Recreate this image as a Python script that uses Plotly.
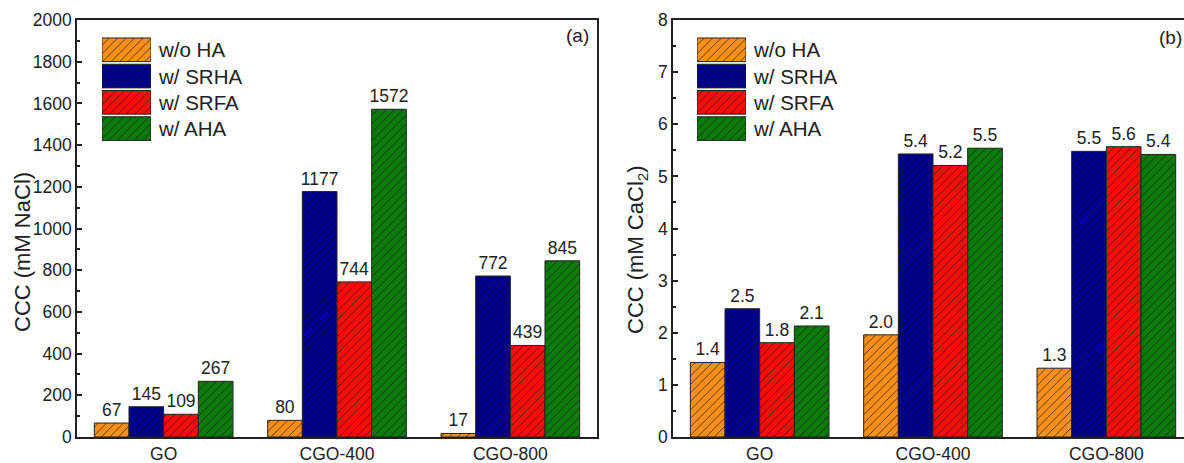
import plotly.graph_objects as go

categories = ["GO", "CGO-400", "CGO-800"]
series_names = ["w/o HA", "w/ SRHA", "w/ SRFA", "w/ AHA"]
series_colors = ["#F8901A", "#00008F", "#FF0A0A", "#0B7A0B"]

# (a) CCC in mM NaCl
nacl_values = [
    [67, 80, 17],        # w/o HA
    [145, 1177, 772],    # w/ SRHA
    [109, 744, 439],     # w/ SRFA
    [267, 1572, 845],    # w/ AHA
]
# (b) CCC in mM CaCl2
cacl2_values = [
    [1.43, 1.96, 1.32],
    [2.46, 5.43, 5.48],
    [1.81, 5.21, 5.57],
    [2.13, 5.54, 5.42],
]

FONT = "Liberation Sans, Arial, sans-serif"
INK = "#222222"
W, H = 1184, 463
MT, MB = 20, 26
PH = H - MT - MB


def px_x(p):
    return p / W


def px_y(p):
    return (H - MB - p) / PH


def pattern(color):
    return dict(shape="/", bgcolor=color, fgcolor="#1a1a1a", size=6,
                solidity=0.12, fillmode="replace")


fig = go.Figure()

for i, name in enumerate(series_names):
    fig.add_trace(go.Bar(
        x=categories, y=nacl_values[i], name=name, xaxis="x", yaxis="y",
        marker=dict(color=series_colors[i], pattern=pattern(series_colors[i]),
                    line=dict(color=INK, width=1)),
        texttemplate="%{y}", textposition="outside", cliponaxis=False,
        constraintext="none", textfont=dict(size=17.5, color=INK, family=FONT),
        showlegend=False))
    fig.add_trace(go.Bar(
        x=categories, y=cacl2_values[i], name=name, xaxis="x2", yaxis="y2",
        marker=dict(color=series_colors[i], pattern=pattern(series_colors[i]),
                    line=dict(color=INK, width=1)),
        texttemplate="%{y:.1f}", textposition="outside", cliponaxis=False,
        constraintext="none", textfont=dict(size=17.5, color=INK, family=FONT),
        showlegend=False))

# legend swatches drawn as bars on small helper axes
for xa, ya in (("x3", "y3"), ("x4", "y4")):
    for i, name in enumerate(series_names):
        fig.add_trace(go.Bar(
            y=[name], x=[1], orientation="h", xaxis=xa, yaxis=ya,
            width=0.9, offset=-0.45, showlegend=False, hoverinfo="skip",
            marker=dict(color=series_colors[i], pattern=pattern(series_colors[i]),
                        line=dict(color=INK, width=1))))

axis_common = dict(showline=True, linewidth=1.5, linecolor=INK, showgrid=False,
                   zeroline=False, tickfont=dict(size=17.5, color=INK, family=FONT))

fig.update_layout(
    width=W, height=H,
    margin=dict(l=0, r=0, t=MT, b=MB),
    paper_bgcolor="white", plot_bgcolor="white",
    barmode="group", bargap=0.2, bargroupgap=0,
    font=dict(family=FONT, color=INK),
    xaxis=dict(domain=[px_x(77), px_x(597)], anchor="y", range=[-0.5, 2.5],
               ticks="", mirror=True, **axis_common),
    yaxis=dict(domain=[0, 1], anchor="x", range=[0, 2000], dtick=200,
               ticks="inside", ticklen=5, tickwidth=1.5, tickcolor=INK, mirror=True,
               minor=dict(dtick=100, ticks="inside", ticklen=3, tickwidth=1.5, tickcolor=INK),
               **axis_common),
    xaxis2=dict(domain=[px_x(673), 1], anchor="y2", range=[-0.5, 2.448],
                ticks="", mirror=True, **axis_common),
    yaxis2=dict(domain=[0, 1], anchor="x2", range=[0, 8], dtick=1,
                ticks="inside", ticklen=5, tickwidth=1.5, tickcolor=INK, mirror=False,
                minor=dict(dtick=0.5, ticks="inside", ticklen=3, tickwidth=1.5, tickcolor=INK),
                **axis_common),
    xaxis3=dict(domain=[px_x(102), px_x(151)], anchor="y3", range=[0, 1], visible=False),
    yaxis3=dict(domain=[px_y(141.7), px_y(36.7)], anchor="x3", range=[3.5, -0.5],
                visible=False, type="category", categoryarray=series_names,
                categoryorder="array"),
    xaxis4=dict(domain=[px_x(697), px_x(746)], anchor="y4", range=[0, 1], visible=False),
    yaxis4=dict(domain=[px_y(141.7), px_y(36.7)], anchor="x4", range=[3.5, -0.5],
                visible=False, type="category", categoryarray=series_names,
                categoryorder="array"),
)

annotations = []
for xa, ya in (("x3", "y3"), ("x4", "y4")):
    for name in series_names:
        annotations.append(dict(xref=xa, yref=ya, x=1, y=name, text=name, showarrow=False,
                                xanchor="left", yanchor="middle", xshift=5,
                                font=dict(size=20.5, color=INK, family=FONT)))
annotations += [
    dict(xref="paper", yref="paper", x=px_x(591), y=px_y(36), text="(a)", showarrow=False,
         xanchor="right", yanchor="middle", font=dict(size=19, color=INK, family=FONT)),
    dict(xref="paper", yref="paper", x=px_x(1184), y=px_y(38), text="(b)", showarrow=False,
         xanchor="right", yanchor="middle", font=dict(size=19, color=INK, family=FONT)),
    dict(xref="paper", yref="paper", x=px_x(22), y=px_y(252), text="CCC (mM NaCl)",
         textangle=-90, showarrow=False, xanchor="center", yanchor="middle",
         font=dict(size=22, color=INK, family=FONT)),
    dict(xref="paper", yref="paper", x=px_x(637), y=px_y(250), text="CCC (mM CaCl<sub>2</sub>)",
         textangle=-90, showarrow=False, xanchor="center", yanchor="middle",
         font=dict(size=22, color=INK, family=FONT)),
]
fig.update_layout(annotations=annotations)

fig.write_html("out.html")
